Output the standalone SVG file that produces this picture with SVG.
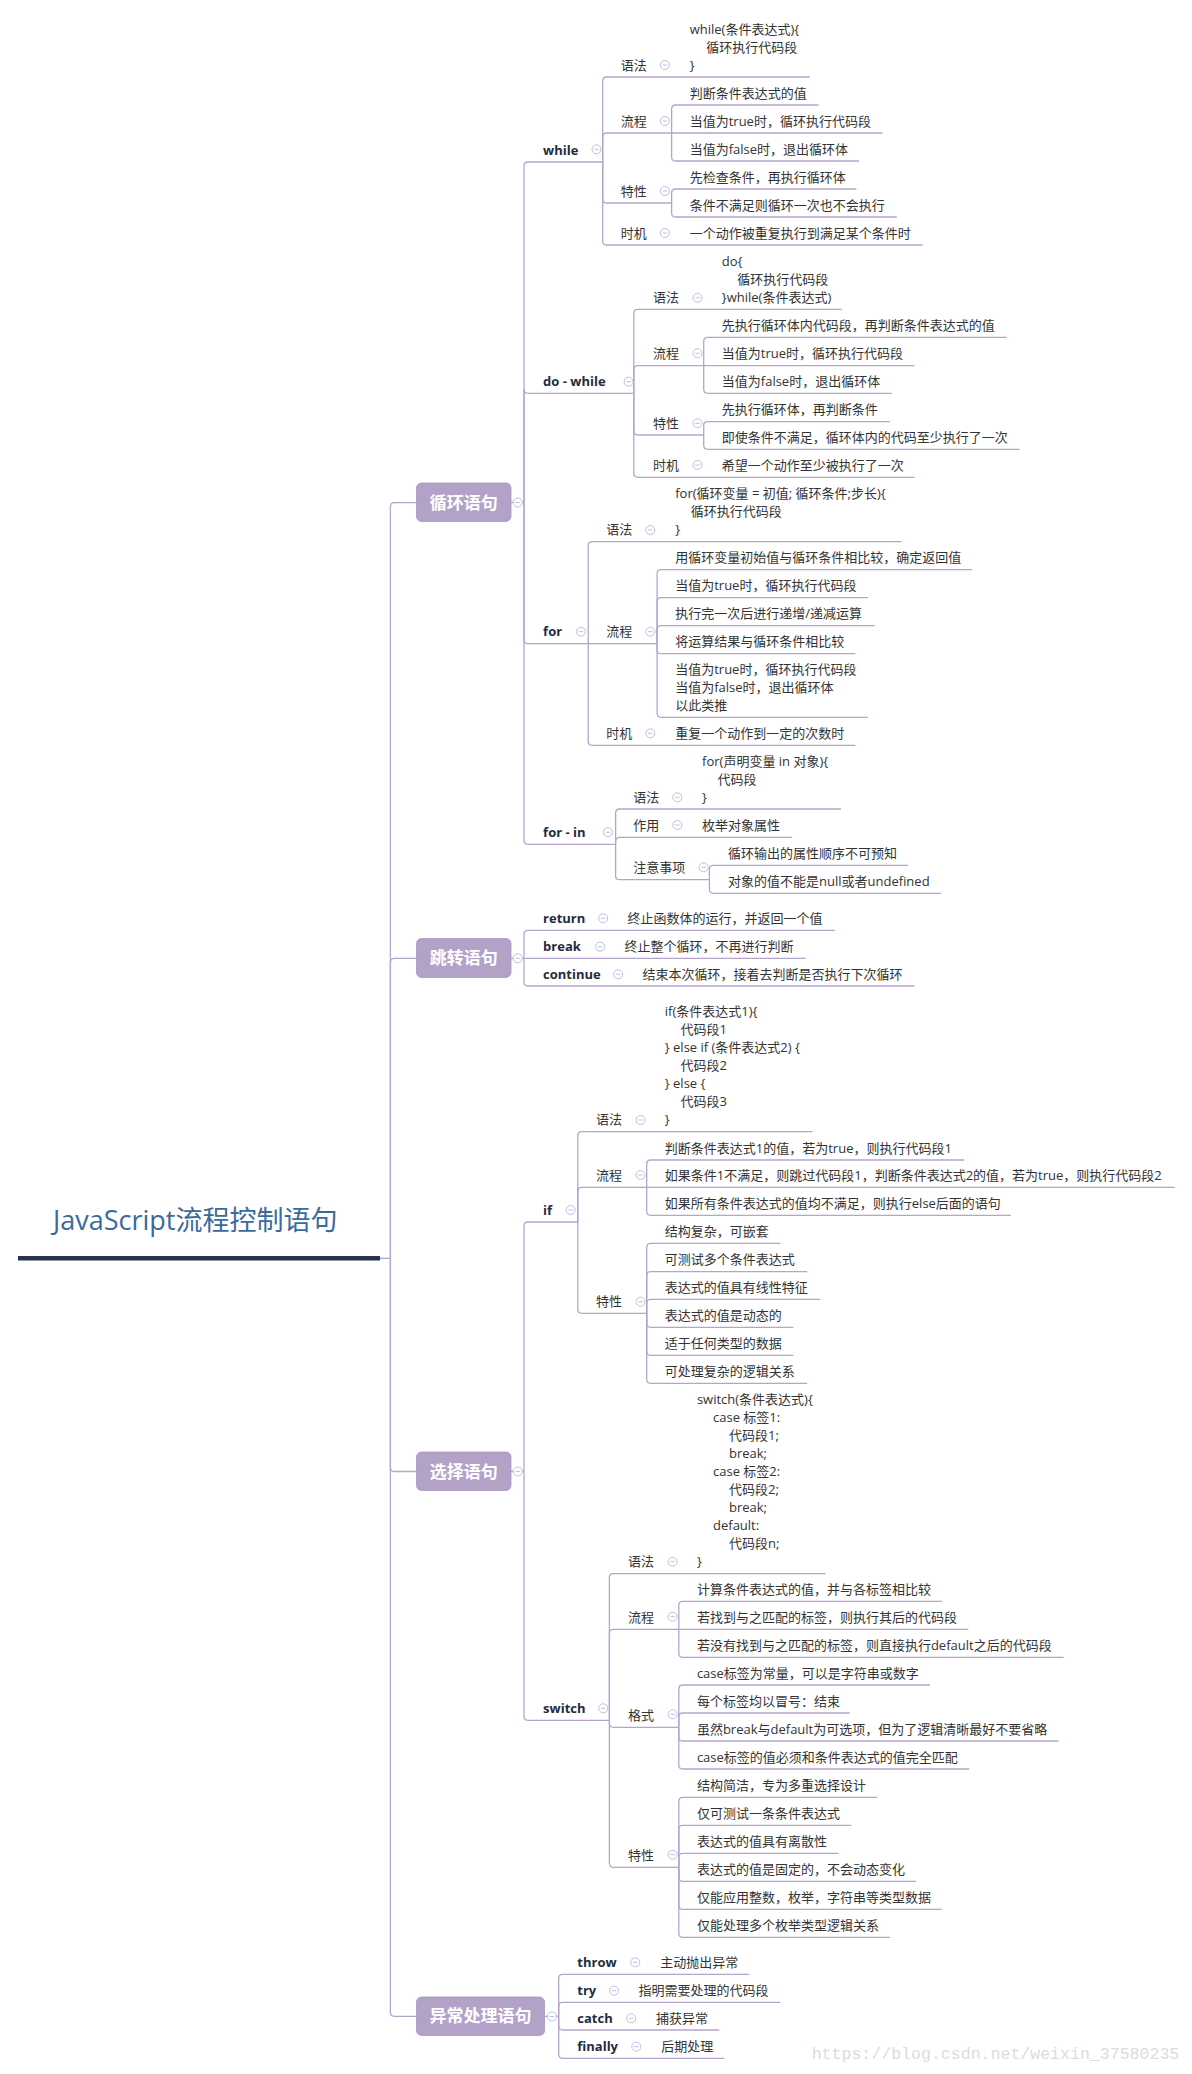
<svg xmlns="http://www.w3.org/2000/svg" xmlns:xlink="http://www.w3.org/1999/xlink" width="1192" height="2074" viewBox="0 0 1192 2074">
<style>
.t{font-family:"Open Sans","Noto Sans CJK SC",sans-serif;font-size:13px;fill:#333}
.b{font-weight:700;fill:#232c3d}
.n{font-family:"Open Sans","Noto Sans CJK SC",sans-serif;font-size:17px;font-weight:700;fill:#fff;text-anchor:middle}
.nr{fill:#b3a2c8;stroke:#a996c0;stroke-width:0.8}
.ln{fill:none;stroke:#b4a5cc;stroke-width:1.3}
</style>
<defs>
<g id="m"><circle r="4.5" fill="#fff" stroke="#b9c2df" stroke-width="1"/><path d="M-2.3 0H2.3" stroke="#b9c2df" stroke-width="1"/></g>
</defs>
<rect width="1192" height="2074" fill="#fff"/>
<g id="connectors" class="ln">
<path d="M380 1258.3H390.4"/>
<path d="M390.4 1258.3V506.7Q390.4 502.7 394.4 502.7H416.5"/>
<path d="M390.4 1258.3V962.3Q390.4 958.3 394.4 958.3H416.5"/>
<path d="M390.4 1258.3V1467.5Q390.4 1471.5 394.4 1471.5H416.5"/>
<path d="M390.4 1258.3V2012.3Q390.4 2016.3 394.4 2016.3H416.5"/>
<path d="M511 502.5H524"/>
<path d="M524 502.5V166Q524 162 528 162H602.7"/>
<path d="M524 502.5V389.3Q524 393.3 528 393.3H633.8"/>
<path d="M524 502.5V639.7Q524 643.7 528 643.7H588.2"/>
<path d="M524 502.5V840.3Q524 844.3 528 844.3H615.6"/>
<path d="M602.7 162V81Q602.7 77 606.7 77H809.8"/>
<path d="M602.7 162V137Q602.7 133 606.7 133H671.6"/>
<path d="M602.7 162V199Q602.7 203 606.7 203H671.6"/>
<path d="M602.7 162V241Q602.7 245 606.7 245H922.7"/>
<path d="M671.6 133V109Q671.6 105 675.6 105H818.6"/>
<path d="M671.6 133H882.3"/>
<path d="M671.6 133V157Q671.6 161 675.6 161H859"/>
<path d="M671.6 203V193Q671.6 189 675.6 189H856.4"/>
<path d="M671.6 203V213Q671.6 217 675.6 217H896.8"/>
<path d="M633.8 393.3V313.3Q633.8 309.3 637.8 309.3H842"/>
<path d="M633.8 393.3V369.7Q633.8 365.7 637.8 365.7H703.7"/>
<path d="M633.8 393.3V431Q633.8 435 637.8 435H703.7"/>
<path d="M633.8 393.3V473.3Q633.8 477.3 637.8 477.3H914.4"/>
<path d="M703.7 365.7V341.3Q703.7 337.3 707.7 337.3H1006.6"/>
<path d="M703.7 365.7H914.4"/>
<path d="M703.7 365.7V389.3Q703.7 393.3 707.7 393.3H891.7"/>
<path d="M703.7 435V425.7Q703.7 421.7 707.7 421.7H890.1"/>
<path d="M703.7 435V445.3Q703.7 449.3 707.7 449.3H1019.6"/>
<path d="M588.2 643.7V545.7Q588.2 541.7 592.2 541.7H901.5"/>
<path d="M588.2 643.7H657.1"/>
<path d="M588.2 643.7V741.3Q588.2 745.3 592.2 745.3H855.4"/>
<path d="M657.1 643.7V573.7Q657.1 569.7 661.1 569.7H971.9"/>
<path d="M657.1 643.7V601.7Q657.1 597.7 661.1 597.7H867.8"/>
<path d="M657.1 643.7V629.7Q657.1 625.7 661.1 625.7H874.6"/>
<path d="M657.1 643.7V649.7Q657.1 653.7 661.1 653.7H855.4"/>
<path d="M657.1 643.7V713.3Q657.1 717.3 661.1 717.3H867.8"/>
<path d="M615.6 844.3V813Q615.6 809 619.6 809H840.9"/>
<path d="M615.6 844.3V841.3Q615.6 837.3 619.6 837.3H791.7"/>
<path d="M615.6 844.3V875.7Q615.6 879.7 619.6 879.7H709.4"/>
<path d="M709.4 879.7V869.3Q709.4 865.3 713.4 865.3H908.2"/>
<path d="M709.4 879.7V889.3Q709.4 893.3 713.4 893.3H940.9"/>
<path d="M511 958.3H524"/>
<path d="M524 958.3V934.3Q524 930.3 528 930.3H834.7"/>
<path d="M524 958.3H805.7"/>
<path d="M524 958.3V982Q524 986 528 986H914.4"/>
<path d="M511 1471.5H524"/>
<path d="M524 1471.5V1226Q524 1222 528 1222H577.8"/>
<path d="M524 1471.5V1716.3Q524 1720.3 528 1720.3H609.4"/>
<path d="M577.8 1222V1135.7Q577.8 1131.7 581.8 1131.7H812.4"/>
<path d="M577.8 1222V1191.3Q577.8 1187.3 581.8 1187.3H646.7"/>
<path d="M577.8 1222V1309.3Q577.8 1313.3 581.8 1313.3H646.7"/>
<path d="M646.7 1187.3V1164Q646.7 1160 650.7 1160H964.2"/>
<path d="M646.7 1187.3H1174.9"/>
<path d="M646.7 1187.3V1211.3Q646.7 1215.3 650.7 1215.3H1010.8"/>
<path d="M646.7 1313.3V1247.3Q646.7 1243.3 650.7 1243.3H780.3"/>
<path d="M646.7 1313.3V1275.7Q646.7 1271.7 650.7 1271.7H807.2"/>
<path d="M646.7 1313.3V1303.3Q646.7 1299.3 650.7 1299.3H820.2"/>
<path d="M646.7 1313.3V1323.3Q646.7 1327.3 650.7 1327.3H793.3"/>
<path d="M646.7 1313.3V1351.3Q646.7 1355.3 650.7 1355.3H793.3"/>
<path d="M646.7 1313.3V1379.3Q646.7 1383.3 650.7 1383.3H807.2"/>
<path d="M609.4 1720.3V1577.7Q609.4 1573.7 613.4 1573.7H825.4"/>
<path d="M609.4 1720.3V1633.3Q609.4 1629.3 613.4 1629.3H678.8"/>
<path d="M609.4 1720.3V1723.3Q609.4 1727.3 613.4 1727.3H678.8"/>
<path d="M609.4 1720.3V1863.3Q609.4 1867.3 613.4 1867.3H678.8"/>
<path d="M678.8 1629.3V1605.3Q678.8 1601.3 682.8 1601.3H941.9"/>
<path d="M678.8 1629.3H968.3"/>
<path d="M678.8 1629.3V1653.3Q678.8 1657.3 682.8 1657.3H1063.6"/>
<path d="M678.8 1727.3V1689Q678.8 1685 682.8 1685H930"/>
<path d="M678.8 1727.3V1717Q678.8 1713 682.8 1713H849.7"/>
<path d="M678.8 1727.3V1737Q678.8 1741 682.8 1741H1058.4"/>
<path d="M678.8 1727.3V1765Q678.8 1769 682.8 1769H969.3"/>
<path d="M678.8 1867.3V1801.3Q678.8 1797.3 682.8 1797.3H877.2"/>
<path d="M678.8 1867.3V1829.3Q678.8 1825.3 682.8 1825.3H851.3"/>
<path d="M678.8 1867.3V1857.3Q678.8 1853.3 682.8 1853.3H838.3"/>
<path d="M678.8 1867.3V1877.3Q678.8 1881.3 682.8 1881.3H916"/>
<path d="M678.8 1867.3V1905.3Q678.8 1909.3 682.8 1909.3H941.9"/>
<path d="M678.8 1867.3V1933.3Q678.8 1937.3 682.8 1937.3H890.1"/>
<path d="M544.5 2016.3H558.7"/>
<path d="M558.7 2016.3V1978.3Q558.7 1974.3 562.7 1974.3H749.2"/>
<path d="M558.7 2016.3V2006.3Q558.7 2002.3 562.7 2002.3H780.3"/>
<path d="M558.7 2016.3V2026Q558.7 2030 562.7 2030H719.2"/>
<path d="M558.7 2016.3V2054.3Q558.7 2058.3 562.7 2058.3H724.4"/>
</g>

<g id="root">
<text x="53" y="1230" font-family="'Open Sans','Noto Sans CJK SC',sans-serif" font-size="27" fill="#3b6a9b">JavaScript流程控制语句</text>
<path d="M18 1258.3H380" stroke="#283449" stroke-width="4.6"/>
</g>

<g id="loop">
<rect class="nr" x="416.5" y="483" width="94.5" height="38.5" rx="5"/>
<text class="n" x="463.8" y="508.5">循环语句</text>
<use href="#m" x="517.8" y="502.5"/>
</g>
<g id="jump">
<rect class="nr" x="416.5" y="938.5" width="94.5" height="39" rx="5"/>
<text class="n" x="463.8" y="964">跳转语句</text>
<use href="#m" x="517.8" y="958.3"/>
</g>
<g id="select">
<rect class="nr" x="416.5" y="1452" width="94.5" height="38.5" rx="5"/>
<text class="n" x="463.8" y="1477.5">选择语句</text>
<use href="#m" x="517.8" y="1471.5"/>
</g>
<g id="exception">
<rect class="nr" x="416.5" y="1997" width="128" height="38.5" rx="5"/>
<text class="n" x="480.5" y="2022.3">异常处理语句</text>
<use href="#m" x="551.9" y="2016.5"/>
</g>

<g id="while" class="t">
<text class="t b" x="543.1" y="154.5">while</text>
<use href="#m" x="596.5" y="149.3"/>
<text class="t" x="620.8" y="69.5">语法</text><use href="#m" x="664.8" y="65"/>
<text class="t" x="689.7" y="33.5">while(条件表达式){</text>
<text class="t" x="706.3" y="51.5">循环执行代码段</text>
<text class="t" x="689.7" y="69.5">}</text>
<text class="t" x="620.8" y="125.5">流程</text><use href="#m" x="664.8" y="121"/>
<text class="t" x="689.7" y="97.5">判断条件表达式的值</text>
<text class="t" x="689.7" y="125.5">当值为true时，循环执行代码段</text>
<text class="t" x="689.7" y="153.5">当值为false时，退出循环体</text>
<text class="t" x="620.8" y="195.5">特性</text><use href="#m" x="664.8" y="191"/>
<text class="t" x="689.7" y="181.5">先检查条件，再执行循环体</text>
<text class="t" x="689.7" y="209.5">条件不满足则循环一次也不会执行</text>
<text class="t" x="620.8" y="237.5">时机</text><use href="#m" x="664.8" y="233"/>
<text class="t" x="689.7" y="237.5">一个动作被重复执行到满足某个条件时</text>
</g>

<g id="dowhile">
<text class="t b" x="543.1" y="386">do - while</text>
<use href="#m" x="628.6" y="381.7"/>
<text class="t" x="652.9" y="301.8">语法</text><use href="#m" x="697.5" y="297.7"/>
<text class="t" x="721.8" y="265.8">do{</text>
<text class="t" x="737.3" y="283.8">循环执行代码段</text>
<text class="t" x="721.8" y="301.8">}while(条件表达式)</text>
<text class="t" x="652.9" y="358.2">流程</text><use href="#m" x="697.5" y="353.3"/>
<text class="t" x="721.8" y="329.8">先执行循环体内代码段，再判断条件表达式的值</text>
<text class="t" x="721.8" y="358.2">当值为true时，循环执行代码段</text>
<text class="t" x="721.8" y="385.8">当值为false时，退出循环体</text>
<text class="t" x="652.9" y="427.5">特性</text><use href="#m" x="697.5" y="423.3"/>
<text class="t" x="721.8" y="414.2">先执行循环体，再判断条件</text>
<text class="t" x="721.8" y="441.8">即使条件不满足，循环体内的代码至少执行了一次</text>
<text class="t" x="652.9" y="469.8">时机</text><use href="#m" x="697.5" y="465"/>
<text class="t" x="721.8" y="469.8">希望一个动作至少被执行了一次</text>
</g>

<g id="for">
<text class="t b" x="543.1" y="636.2">for</text>
<use href="#m" x="580.9" y="631.7"/>
<text class="t" x="606.3" y="534.2">语法</text><use href="#m" x="650.3" y="530"/>
<text class="t" x="675.2" y="498.2">for(循环变量 = 初值; 循环条件;步长){</text>
<text class="t" x="690.7" y="516.2">循环执行代码段</text>
<text class="t" x="675.2" y="534.2">}</text>
<text class="t" x="606.3" y="636.2">流程</text><use href="#m" x="650.3" y="631.7"/>
<text class="t" x="675.2" y="562.2">用循环变量初始值与循环条件相比较，确定返回值</text>
<text class="t" x="675.2" y="590.2">当值为true时，循环执行代码段</text>
<text class="t" x="675.2" y="618.2">执行完一次后进行递增/递减运算</text>
<text class="t" x="675.2" y="646.2">将运算结果与循环条件相比较</text>
<text class="t" x="675.2" y="673.8">当值为true时，循环执行代码段</text>
<text class="t" x="675.2" y="691.8">当值为false时，退出循环体</text>
<text class="t" x="675.2" y="709.8">以此类推</text>
<text class="t" x="606.3" y="737.8">时机</text><use href="#m" x="650.3" y="733.3"/>
<text class="t" x="675.2" y="737.8">重复一个动作到一定的次数时</text>
</g>

<g id="forin">
<text class="t b" x="543.1" y="836.8">for - in</text>
<use href="#m" x="607.9" y="832.3"/>
<text class="t" x="633.2" y="801.5">语法</text><use href="#m" x="677.3" y="797.3"/>
<text class="t" x="702.1" y="765.5">for(声明变量 in 对象){</text>
<text class="t" x="717.6" y="783.5">代码段</text>
<text class="t" x="702.1" y="801.5">}</text>
<text class="t" x="633.2" y="829.8">作用</text><use href="#m" x="677.3" y="825"/>
<text class="t" x="702.1" y="829.8">枚举对象属性</text>
<text class="t" x="633.2" y="872.2">注意事项</text><use href="#m" x="703.7" y="867.3"/>
<text class="t" x="728" y="857.8">循环输出的属性顺序不可预知</text>
<text class="t" x="728" y="885.8">对象的值不能是null或者undefined</text>
</g>

<g id="return">
<text class="t b" x="543.1" y="922.8">return</text><use href="#m" x="603.2" y="918.3"/>
<text class="t" x="627.5" y="922.8">终止函数体的运行，并返回一个值</text>
</g>
<g id="break">
<text class="t b" x="543.1" y="950.8">break</text><use href="#m" x="600.1" y="946.7"/>
<text class="t" x="624.4" y="950.8">终止整个循环，不再进行判断</text>
</g>
<g id="continue">
<text class="t b" x="543.1" y="978.5">continue</text><use href="#m" x="618.2" y="974.3"/>
<text class="t" x="642.6" y="978.5">结束本次循环，接着去判断是否执行下次循环</text>
</g>

<g id="if">
<text class="t b" x="543.1" y="1214.5">if</text>
<use href="#m" x="570.6" y="1210"/>
<text class="t" x="596" y="1124.2">语法</text><use href="#m" x="640.5" y="1120"/>
<text class="t" x="664.8" y="1016.2">if(条件表达式1){</text>
<text class="t" x="680.4" y="1034.2">代码段1</text>
<text class="t" x="664.8" y="1052.2">} else if (条件表达式2) {</text>
<text class="t" x="680.4" y="1070.2">代码段2</text>
<text class="t" x="664.8" y="1088.2">} else {</text>
<text class="t" x="680.4" y="1106.2">代码段3</text>
<text class="t" x="664.8" y="1124.2">}</text>
<text class="t" x="596" y="1179.8">流程</text><use href="#m" x="640.5" y="1175"/>
<text class="t" x="664.8" y="1152.5">判断条件表达式1的值，若为true，则执行代码段1</text>
<text class="t" x="664.8" y="1179.8">如果条件1不满足，则跳过代码段1，判断条件表达式2的值，若为true，则执行代码段2</text>
<text class="t" x="664.8" y="1207.8">如果所有条件表达式的值均不满足，则执行else后面的语句</text>
<text class="t" x="596" y="1305.8">特性</text><use href="#m" x="640.5" y="1301.7"/>
<text class="t" x="664.8" y="1235.8">结构复杂，可嵌套</text>
<text class="t" x="664.8" y="1264.2">可测试多个条件表达式</text>
<text class="t" x="664.8" y="1291.8">表达式的值具有线性特征</text>
<text class="t" x="664.8" y="1319.8">表达式的值是动态的</text>
<text class="t" x="664.8" y="1347.8">适于任何类型的数据</text>
<text class="t" x="664.8" y="1375.8">可处理复杂的逻辑关系</text>
</g>

<g id="switch">
<text class="t b" x="543.1" y="1712.8">switch</text>
<use href="#m" x="603.2" y="1708.3"/>
<text class="t" x="628" y="1566.2">语法</text><use href="#m" x="672.6" y="1561.7"/>
<text class="t" x="696.9" y="1404.2">switch(条件表达式){</text>
<text class="t" x="713" y="1422.2">case 标签1:</text>
<text class="t" x="729" y="1440.2">代码段1;</text>
<text class="t" x="729" y="1458.2">break;</text>
<text class="t" x="713" y="1476.2">case 标签2:</text>
<text class="t" x="729" y="1494.2">代码段2;</text>
<text class="t" x="729" y="1512.2">break;</text>
<text class="t" x="713" y="1530.2">default:</text>
<text class="t" x="729" y="1548.2">代码段n;</text>
<text class="t" x="696.9" y="1566.2">}</text>
<text class="t" x="628" y="1621.8">流程</text><use href="#m" x="672.6" y="1616.7"/>
<text class="t" x="696.9" y="1593.8">计算条件表达式的值，并与各标签相比较</text>
<text class="t" x="696.9" y="1621.8">若找到与之匹配的标签，则执行其后的代码段</text>
<text class="t" x="696.9" y="1649.8">若没有找到与之匹配的标签，则直接执行default之后的代码段</text>
<text class="t" x="628" y="1719.8">格式</text><use href="#m" x="672.6" y="1714.3"/>
<text class="t" x="696.9" y="1677.5">case标签为常量，可以是字符串或数字</text>
<text class="t" x="696.9" y="1705.5">每个标签均以冒号：结束</text>
<text class="t" x="696.9" y="1733.5">虽然break与default为可选项，但为了逻辑清晰最好不要省略</text>
<text class="t" x="696.9" y="1761.5">case标签的值必须和条件表达式的值完全匹配</text>
<text class="t" x="628" y="1859.8">特性</text><use href="#m" x="672.6" y="1854.7"/>
<text class="t" x="696.9" y="1789.8">结构简洁，专为多重选择设计</text>
<text class="t" x="696.9" y="1817.8">仅可测试一条条件表达式</text>
<text class="t" x="696.9" y="1845.8">表达式的值具有离散性</text>
<text class="t" x="696.9" y="1873.8">表达式的值是固定的，不会动态变化</text>
<text class="t" x="696.9" y="1901.8">仅能应用整数，枚举，字符串等类型数据</text>
<text class="t" x="696.9" y="1929.8">仅能处理多个枚举类型逻辑关系</text>
</g>

<g id="throw">
<text class="t b" x="577.3" y="1966.8">throw</text><use href="#m" x="635.3" y="1962.3"/>
<text class="t" x="660.2" y="1966.8">主动抛出异常</text>
</g>
<g id="try">
<text class="t b" x="577.3" y="1994.8">try</text><use href="#m" x="614.1" y="1990.7"/>
<text class="t" x="638.4" y="1994.8">指明需要处理的代码段</text>
</g>
<g id="catch">
<text class="t b" x="577.3" y="2022.5">catch</text><use href="#m" x="631.2" y="2018.3"/>
<text class="t" x="656" y="2022.5">捕获异常</text>
</g>
<g id="finally">
<text class="t b" x="577.3" y="2050.8">finally</text><use href="#m" x="636.3" y="2046.7"/>
<text class="t" x="661.2" y="2050.8">后期处理</text>
</g>

<text x="811.7" y="2058.5" font-family="'Liberation Mono',monospace" font-size="16.5" fill="#dcdcdc" textLength="367.6" lengthAdjust="spacingAndGlyphs">https://blog.csdn.net/weixin_37580235</text>
</svg>
